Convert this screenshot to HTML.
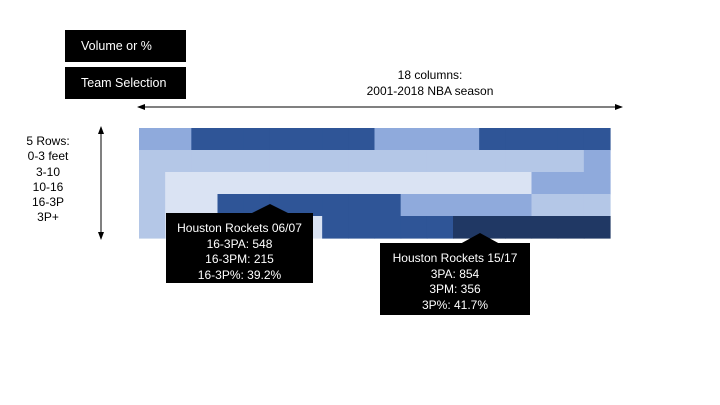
<!DOCTYPE html>
<html><head><meta charset="utf-8"><style>
body{margin:0;width:720px;height:405px;background:#fff;font-family:"Liberation Sans",sans-serif;position:relative;overflow:hidden}
.btn{position:absolute;left:65px;width:121px;height:32px;background:#000;color:#fff;font-size:12.5px;line-height:32px;box-sizing:border-box;padding-left:16px}
.txt{position:absolute;text-align:center;font-size:12px;color:#000}
.tip{position:absolute;background:#000;color:#fff;font-size:12px;line-height:15.5px;text-align:center;padding-top:8px;box-sizing:border-box}
</style></head><body>
<div class="btn" style="top:30px">Volume or %</div>
<div class="btn" style="top:67px">Team Selection</div>
<div class="txt" style="left:330px;top:67px;width:200px;line-height:16px">18 columns:<br>2001-2018 NBA season</div>
<div class="txt" style="left:8px;top:134px;width:80px;line-height:15.3px">5 Rows:<br>0-3 feet<br>3-10<br>10-16<br>16-3P<br>3P+</div>
<svg id="chart" width="720" height="405" style="position:absolute;left:0;top:0">
<defs><marker id="ah" markerWidth="8" markerHeight="6" refX="7" refY="3" orient="auto"><path d="M0,0L8,3L0,6z" fill="#000"/></marker></defs>
<g id="cells"></g>
<line x1="600" y1="107" x2="138" y2="107" stroke="#000" stroke-width="1" marker-end="url(#ah)"/>
<line x1="400" y1="107" x2="622" y2="107" stroke="#000" stroke-width="1" marker-end="url(#ah)"/>
<line x1="101" y1="180" x2="101" y2="127" stroke="#000" stroke-width="1" marker-end="url(#ah)"/>
<line x1="101" y1="180" x2="101" y2="239" stroke="#000" stroke-width="1" marker-end="url(#ah)"/>
<polygon points="270,204 250,214 290,214" fill="#000"/>
<polygon points="480,233 460,244 500,244" fill="#000"/>
</svg>
<div class="tip" style="left:166px;top:213px;width:147px;height:70px">Houston Rockets 06/07<br>16-3PA: 548<br>16-3PM: 215<br>16-3P%: 39.2%</div>
<div class="tip" style="left:380px;top:243px;width:150px;height:72px">Houston Rockets 15/17<br>3PA: 854<br>3PM: 356<br>3P%: 41.7%</div>
<script>
const seasons=["01","02","03","04","05","06","07","08","09","10","11","12","13","14","15","16","17","18"];
const zones=["0-3 feet","3-10","10-16","16-3P","3P+"];
const row0=[2,2,3,3,3,3,3,3,3,2,2,2,2,3,3,3,3,3];
const row1=[1,1,1,1,1,1,1,1,1,1,1,1,1,1,1,1,1,2];
const row2=[1,0,0,0,0,0,0,0,0,0,0,0,0,0,0,2,2,2];
const row3=[1,0,0,3,3,3,3,3,3,3,2,2,2,2,2,1,1,1];
const row4=[1,0,0,0,0,0,0,3,3,3,3,3,4,4,4,4,4,4];
const levels=[row0,row1,row2,row3,row4];
const palette=["#dae3f3","#b4c7e7","#8faadc","#2f5597","#203864"];
const x0=139,x1=610,y0=128,y1=238;
const cw=(x1-x0)/seasons.length, rh=(y1-y0)/zones.length;
function xs(i){return x0+i*cw;}
function ys(j){return y0+j*rh;}
const g=document.getElementById('cells');
levels.forEach((row,j)=>row.forEach((v,i)=>{
 const r=document.createElementNS('http://www.w3.org/2000/svg','rect');
 r.setAttribute('x',xs(i));r.setAttribute('y',ys(j));
 r.setAttribute('width',cw+0.6);r.setAttribute('height',rh+0.6);
 r.setAttribute('fill',palette[v]);
 
 
 g.appendChild(r);
}));
</script>
</body></html>
